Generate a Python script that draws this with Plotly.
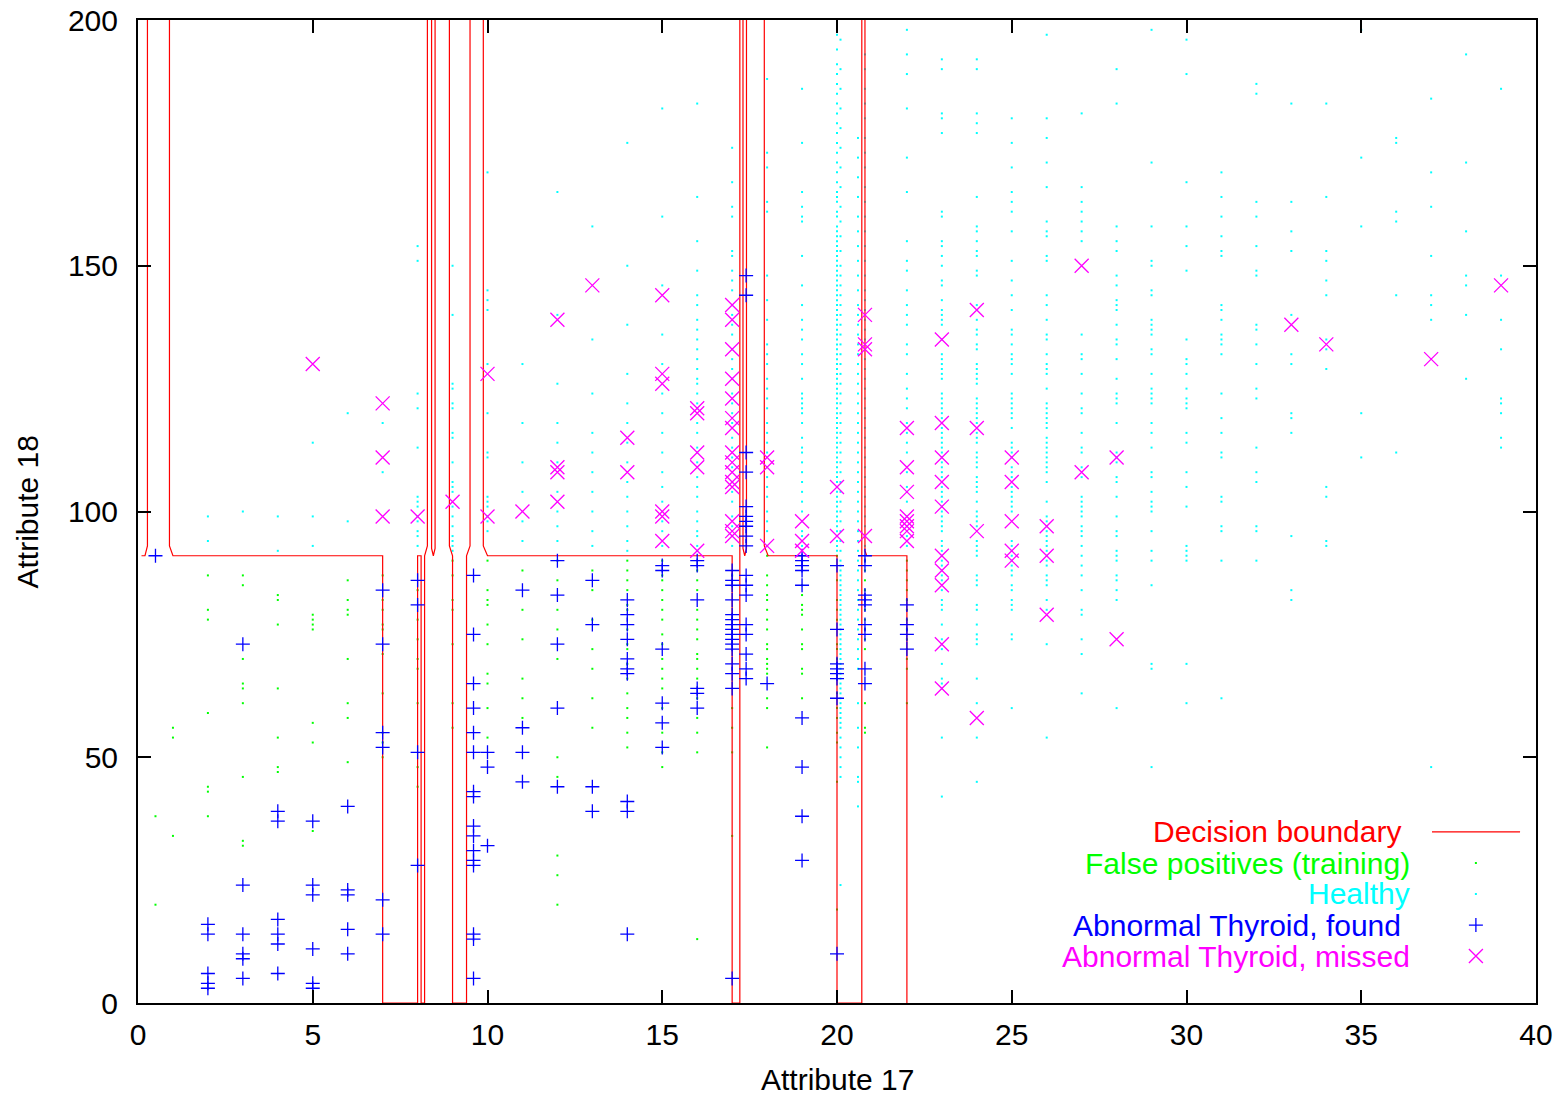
import plotly.graph_objects as go

# ---------------------------------------------------------------------------
# Decision boundary (contour pieces of the classifier output)
# ---------------------------------------------------------------------------
bnd1_x = [0.1, 0.2, 0.27, 0.27]
bnd1_y = [91, 91, 93, 200]
bnd2_x = [0.9, 0.9, 1.0, 7.0, 7.0, 8.0, 8.0, 8.1, 8.1, 8.2, 8.2, 8.28, 8.28]
bnd2_y = [200, 93, 91, 91, 0, 0, 91, 91, 0, 0, 91, 93, 200]
bnd3_x = [8.4, 8.4, 8.45, 8.5, 8.5]
bnd3_y = [200, 92.5, 91, 92.5, 200]
bnd4_x = [8.91, 8.91, 9.0, 9.0, 9.4, 9.4, 9.5, 9.5]
bnd4_y = [200, 93, 91, 0, 0, 91, 93, 200]
bnd5_x = [9.88, 9.88, 10.0, 17.0, 17.0, 17.22, 17.22]
bnd5_y = [200, 93, 91, 91, 0, 0, 200]
bnd6_x = [17.31, 17.31, 17.36, 17.41, 17.41]
bnd6_y = [200, 92.5, 91, 92.5, 200]
bnd7_x = [17.92, 17.92, 18.03, 20.0, 20.0, 20.71, 20.71]
bnd7_y = [200, 93, 91, 91, 0, 0, 200]
bnd8_x = [20.8, 20.8, 20.85, 22.0, 22.0]
bnd8_y = [200, 92, 91, 91, 0]

boundary = [(bnd1_x, bnd1_y), (bnd2_x, bnd2_y), (bnd3_x, bnd3_y), (bnd4_x, bnd4_y),
            (bnd5_x, bnd5_y), (bnd6_x, bnd6_y), (bnd7_x, bnd7_y), (bnd8_x, bnd8_y)]

# ---------------------------------------------------------------------------
# False positives (training), Attribute 18 values per Attribute 17 column
# ---------------------------------------------------------------------------
fp_0_5 = [38, 20]
fp_1 = [56, 54, 34]
fp_2 = [87, 80, 78, 59, 44, 43, 38]
fp_3 = [87, 85, 70, 65, 64, 61, 46, 33, 32]
fp_4 = [83, 82, 77, 64, 54, 48, 47]
fp_5 = [79, 78, 77, 76, 57, 53, 35]
fp_6 = [86, 82, 80, 79, 70, 61, 58, 49]
fp_7 = [87, 82, 80, 77, 76, 71, 63, 55, 53, 50]
fp_8 = [84, 78, 74, 70, 68, 61, 48, 44]
fp_9 = [90, 87, 82, 80, 73, 61, 56]
fp_10 = [90, 84, 82, 81, 77, 73, 67, 65, 60, 54]
fp_11 = [88, 80, 74, 66, 62, 58]
fp_12 = [90, 86, 80, 76, 70, 50, 46, 30, 26, 20]
fp_13 = [88, 84, 78, 72, 68, 62, 56]
fp_14 = [90, 88, 86, 84, 81, 80, 76, 73, 72, 69, 66, 63, 60, 58, 55, 52]
fp_15 = [90, 87, 86, 84, 82, 80, 78, 75, 73, 70, 68, 66, 64, 60, 55, 51, 48]
fp_16 = [88, 86, 84, 80, 78, 76, 74, 71, 70, 68, 66, 62, 58, 55, 51, 13]
fp_17 = [87, 60, 56, 51, 34]
fp_18 = [91, 87, 85, 83, 82, 80, 78, 76, 73, 72, 70, 69, 68, 67, 62, 60, 52]
fp_19 = [85, 83, 81, 80, 79, 76, 73, 72, 68, 67, 62]
fp_20 = [91, 86, 82, 80, 78, 73, 72, 70, 66, 63, 60, 58, 55, 53, 45, 19]
fp_20_8 = [90, 88, 86, 84, 82, 80, 78, 76, 74, 72, 61, 56, 55]
fp_22 = [90, 88, 86, 84, 82, 80, 78, 76, 74, 72, 70, 68, 61]

fp_columns = [(0.5, fp_0_5), (1, fp_1), (2, fp_2), (3, fp_3), (4, fp_4), (5, fp_5),
              (6, fp_6), (7, fp_7), (8, fp_8), (9, fp_9), (10, fp_10), (11, fp_11),
              (12, fp_12), (13, fp_13), (14, fp_14), (15, fp_15), (16, fp_16),
              (17, fp_17), (18, fp_18), (19, fp_19), (20, fp_20), (20.8, fp_20_8),
              (22, fp_22)]

# ---------------------------------------------------------------------------
# Healthy cases, Attribute 18 values per Attribute 17 column
# ---------------------------------------------------------------------------
healthy_2 = [99, 94]
healthy_3 = [100]
healthy_4 = [99, 92]
healthy_5 = [114, 99, 93]
healthy_6 = [120, 98]
healthy_7 = [118, 108]
healthy_8 = [154, 151, 124, 121, 113, 103, 102, 101, 99, 98, 96, 95, 93]
healthy_9 = [150, 140, 126, 125, 122, 121, 116, 115, 110, 106, 105, 104, 101, 99, 97, 95, 94, 93, 92]
healthy_10 = [169, 145, 143, 141, 130, 120, 112, 111, 103, 102, 101, 99, 98, 96]
healthy_11 = [130, 118, 110, 104, 98, 94]
healthy_12 = [165, 140, 126, 118, 114, 110, 104, 100, 97, 94]
healthy_13 = [158, 135, 124, 116, 112, 108, 104, 100, 96, 93]
healthy_14 = [175, 150, 138, 128, 122, 118, 114, 110, 106, 103, 100, 97, 94, 92]
healthy_15 = [182, 160, 146, 136, 130, 124, 120, 116, 112, 108, 105, 102, 98, 96, 93]
healthy_16 = [183, 164, 155, 149, 144, 142, 139, 137, 135, 133, 131, 129, 127, 126, 124,
              122, 121, 118, 116, 113, 112, 110, 107, 105, 103, 100, 98, 96, 95, 93, 92]
healthy_17 = [174, 167, 162, 160, 153, 152, 149, 147, 145, 142, 140, 138, 136, 133, 131,
              129, 127, 124, 122, 120, 118, 115, 113, 111, 109, 106, 104, 102, 99, 97, 95, 93]
healthy_18 = [188, 173, 170, 163, 161, 148, 143, 139, 134, 132, 130, 127, 125, 123, 121,
              118, 116, 114, 112, 109, 107, 105, 103, 100, 98, 96, 93]
healthy_19 = [186, 175, 165, 162, 160, 159, 152, 146, 142, 139, 137, 135, 132, 130, 127,
              124, 123, 122, 121, 120, 118, 115, 113, 112, 110, 108, 106, 104, 102, 100,
              98, 96, 95, 93]
healthy_20 = [197, 194, 191, 189, 187, 185, 183, 181, 179, 177, 175, 173, 171, 169, 167,
              165, 164, 163, 161, 160, 158, 157, 156, 155, 154, 153, 152, 151, 150, 149,
              148, 147, 146, 145, 144, 143, 142, 141, 140, 139, 138, 137, 136, 135, 134,
              133, 132, 131, 130, 129, 128, 127, 126, 125, 124, 123, 122, 121, 120, 119,
              118, 117, 116, 115, 114, 113, 112, 111, 110, 109, 108, 107, 106, 105, 104,
              103, 102, 101, 100, 99, 98, 97, 96, 95, 94, 93, 92]
healthy_20_1 = [196, 190, 186, 182, 178, 174, 170, 166, 162, 159, 156, 153, 150, 148, 146,
                144, 142, 140, 138, 136, 134, 132, 130, 128, 126, 124, 122, 120, 118, 116,
                114, 112, 110, 108, 106, 104, 102, 100, 98, 96, 94, 92, 90, 89, 88, 87,
                86, 85, 84, 83, 82, 81, 80, 79, 78, 77, 76, 75, 74, 73, 72, 71, 70, 69,
                68, 67, 66, 65, 64, 63, 62, 61, 60, 59, 58, 57, 56, 54, 52, 50, 48, 46, 24]
healthy_20_6 = [176, 172, 168, 164, 160, 157, 154, 151, 148, 145, 142, 140, 138, 136, 134,
                132, 130, 128, 126, 124, 122, 120, 118, 116, 114, 112, 110, 108, 106, 104,
                102, 100, 98, 96, 94, 92, 90, 88, 86, 84, 82, 80, 78, 76, 74, 72, 70, 68,
                61, 56, 52, 46, 45, 40]
healthy_20_8 = [193, 190, 186, 183, 180, 176, 173, 170, 166, 163, 160, 157, 154, 151, 148,
                145, 143, 141, 139, 137, 135, 133, 131, 129, 127, 125, 123, 121, 119, 117,
                115, 113, 111, 109, 107, 105, 103, 101, 99, 97, 95, 93]
healthy_22 = [198, 193, 189, 182, 172, 165, 155, 151, 149, 145, 142, 140, 138, 134, 132,
              128, 125, 123, 121, 118, 116, 114, 112, 108, 105, 104, 102, 99, 97, 95, 93]
healthy_23 = [192, 190, 181, 180, 177, 161, 160, 155, 154, 152, 150, 147, 146, 143, 141,
              140, 139, 138, 135, 132, 131, 130, 129, 128, 127, 124, 123, 122, 121, 120,
              119, 118, 117, 116, 115, 114, 113, 112, 111, 110, 109, 108, 107, 106, 105,
              104, 103, 102, 101, 100, 99, 98, 97, 96, 94, 93, 92, 91, 90, 89, 88, 87,
              86, 84, 82, 81, 80, 77, 74, 73, 72, 69, 66, 65, 64, 54, 42]
healthy_24 = [192, 190, 181, 179, 177, 164, 158, 157, 155, 153, 152, 149, 148, 142, 141,
              139, 137, 136, 134, 133, 130, 129, 128, 127, 126, 123, 122, 121, 120, 119,
              118, 116, 115, 114, 112, 111, 110, 109, 107, 106, 105, 104, 102, 100, 99,
              98, 97, 94, 93, 92, 91, 87, 86, 85, 81, 80, 77, 75, 74, 73, 66, 61, 54, 45]
healthy_25 = [180, 175, 170, 165, 163, 161, 157, 151, 147, 144, 141, 137, 136, 134, 132,
              131, 130, 128, 124, 123, 122, 121, 120, 119, 117, 114, 113, 112, 111, 109,
              108, 107, 105, 104, 103, 102, 101, 100, 94, 93, 92, 91, 90, 89, 88, 87, 85,
              84, 82, 81, 80, 75, 74, 60]
healthy_26 = [197, 180, 176, 171, 166, 159, 157, 156, 152, 151, 144, 142, 139, 136, 135,
              132, 130, 129, 128, 125, 122, 121, 120, 119, 118, 117, 115, 114, 113, 112,
              111, 110, 109, 108, 106, 102, 99, 98, 97, 96, 95, 94, 93, 92, 91, 90, 89,
              87, 86, 85, 82, 80, 73, 54]
healthy_27 = [181, 166, 163, 161, 159, 157, 155, 136, 132, 131, 128, 124, 121, 120, 116,
              113, 112, 109, 107, 103, 102, 101, 100, 99, 97, 96, 95, 93, 91, 89, 87, 84,
              80, 79, 74, 71, 63]
healthy_28 = [190, 183, 158, 155, 153, 148, 146, 143, 142, 141, 138, 135, 134, 131, 127,
              124, 123, 122, 118, 112, 111, 110, 107, 106, 103, 99, 96, 95, 92, 91, 90, 87,
              86, 84, 82, 60]
healthy_29 = [198, 171, 158, 151, 150, 145, 144, 139, 138, 137, 136, 133, 132, 128, 125,
              124, 123, 122, 118, 116, 113, 108, 107, 104, 102, 101, 100, 96, 92, 90, 85,
              69, 68, 48]
healthy_30 = [196, 189, 167, 158, 154, 149, 135, 131, 130, 128, 125, 123, 122, 121, 116,
              114, 108, 105, 101, 93, 92, 91, 90, 69, 61]
healthy_31 = [169, 164, 160, 156, 153, 152, 142, 141, 139, 136, 135, 134, 132, 124, 119,
              116, 112, 111, 103, 102, 97, 96, 90, 62]
healthy_32 = [187, 185, 163, 160, 154, 149, 148, 138, 137, 134, 130, 125, 123, 113, 108,
              106, 97, 96, 90]
healthy_33 = [183, 163, 157, 153, 140, 132, 130, 120, 119, 116, 95, 84, 82]
healthy_34 = [183, 164, 153, 151, 147, 144, 135, 133, 129, 105, 103, 94, 93]
healthy_35 = [198, 172, 158, 120, 111]
healthy_36 = [176, 175, 161, 159, 144, 112]
healthy_37 = [184, 169, 162, 152, 144, 142, 139, 48]
healthy_38 = [193, 171, 157, 148, 146, 140, 127]
healthy_39 = [186, 148, 139, 133, 123, 122, 120, 115, 113]

healthy_columns = [(2, healthy_2), (3, healthy_3), (4, healthy_4), (5, healthy_5),
                   (6, healthy_6), (7, healthy_7), (8, healthy_8), (9, healthy_9),
                   (10, healthy_10), (11, healthy_11), (12, healthy_12), (13, healthy_13),
                   (14, healthy_14), (15, healthy_15), (16, healthy_16), (17, healthy_17),
                   (18, healthy_18), (19, healthy_19), (20, healthy_20), (20.1, healthy_20_1),
                   (20.6, healthy_20_6), (20.8, healthy_20_8), (22, healthy_22),
                   (23, healthy_23), (24, healthy_24), (25, healthy_25), (26, healthy_26),
                   (27, healthy_27), (28, healthy_28), (29, healthy_29), (30, healthy_30),
                   (31, healthy_31), (32, healthy_32), (33, healthy_33), (34, healthy_34),
                   (35, healthy_35), (36, healthy_36), (37, healthy_37), (38, healthy_38),
                   (39, healthy_39)]

# ---------------------------------------------------------------------------
# Abnormal thyroid cases found by the classifier
# ---------------------------------------------------------------------------
found_x = [0.5,
           2, 2, 2, 2, 2,
           3, 3, 3, 3, 3, 3,
           4, 4, 4, 4, 4, 4,
           5, 5, 5, 5, 5, 5,
           6, 6, 6, 6, 6,
           7, 7, 7, 7, 7, 7,
           8, 8, 8, 8,
           9.6, 9.6, 9.6, 9.6, 9.6, 9.6, 9.6, 9.6, 9.6, 9.6, 9.6, 9.6, 9.6, 9.6, 9.6, 9.6,
           10, 10, 10,
           11, 11, 11, 11,
           12, 12, 12, 12, 12,
           13, 13, 13, 13,
           14, 14, 14, 14, 14, 14, 14, 14, 14, 14,
           15, 15, 15, 15, 15, 15,
           16, 16, 16, 16, 16, 16,
           17, 17, 17, 17, 17, 17, 17, 17, 17, 17, 17, 17, 17, 17, 17, 17,
           17.4, 17.4, 17.4, 17.4, 17.4, 17.4, 17.4, 17.4, 17.4, 17.4, 17.4, 17.4, 17.4,
           17.4, 17.4, 17.4, 17.4, 17.4,
           18,
           19, 19, 19, 19, 19, 19, 19, 19, 19,
           20, 20, 20, 20, 20, 20, 20, 20,
           20.8, 20.8, 20.8, 20.8, 20.8, 20.8, 20.8, 20.8, 20.8,
           22, 22, 22, 22]
found_y = [91,
           16, 14, 6, 4, 3,
           73, 24, 14, 10, 9, 5,
           39, 37, 17, 14, 12, 6,
           37, 24, 22, 11, 4, 3,
           40, 23, 22, 15, 10,
           84, 73, 55, 52, 21, 14,
           86, 81, 51, 28,
           87, 75, 65, 60, 55, 51, 43, 42, 36, 34, 31, 29, 28, 14, 13, 5,
           51, 48, 32,
           84, 56, 51, 45,
           90, 83, 73, 60, 44,
           86, 77, 44, 39,
           82, 79, 77, 74, 70, 68, 67, 41, 39, 14,
           89, 88, 72, 61, 57, 52,
           90, 89, 82, 64, 63, 60,
           88, 86, 85, 82, 79, 78, 77, 76, 75, 74, 73, 72, 69, 67, 64, 5,
           148, 144, 112, 108, 101, 99, 98, 97, 95, 93, 87, 85, 83, 77, 75, 71, 68,
           66,
           65,
           91, 90, 89, 88, 85, 58, 48, 38, 29,
           89, 76, 69, 68, 67, 66, 62, 10,
           91, 89, 83, 82, 81, 77, 75, 68, 65,
           81, 77, 75, 72]

# ---------------------------------------------------------------------------
# Abnormal thyroid cases missed by the classifier
# ---------------------------------------------------------------------------
missed_x = [5, 7, 7, 7, 8, 9, 10, 10, 11,
            12, 12, 12, 12, 13, 14, 14,
            15, 15, 15, 15, 15, 15,
            16, 16, 16, 16, 16,
            17, 17, 17, 17, 17, 17, 17, 17, 17, 17, 17, 17, 17, 17, 17,
            18, 18, 18,
            19, 19, 19,
            20, 20,
            20.8, 20.8, 20.8, 20.8,
            22, 22, 22, 22, 22, 22, 22, 22,
            23, 23, 23, 23, 23, 23, 23, 23, 23, 23,
            24, 24, 24, 24,
            25, 25, 25, 25, 25,
            26, 26, 26,
            27, 27,
            28, 28,
            33, 34, 37, 39]
missed_y = [130, 122, 111, 99, 99, 102, 128, 99, 100,
            139, 109, 108, 102, 146, 115, 108,
            144, 128, 126, 100, 99, 94,
            121, 120, 112, 109, 92,
            142, 139, 133, 127, 123, 119, 117, 112, 110, 108, 106, 105, 98, 96, 95,
            111, 109, 93,
            98, 94, 92,
            105, 95,
            140, 134, 133, 95,
            117, 109, 104, 99, 98, 97, 96, 94,
            135, 118, 111, 106, 101, 91, 88, 85, 73, 64,
            141, 117, 96, 58,
            111, 106, 98, 92, 90,
            97, 91, 79,
            150, 108,
            111, 74,
            138, 134, 131, 146]

# Legend entries
legend_labels = ["Decision boundary", "False positives (training)", "Healthy",
                 "Abnormal Thyroid, found", "Abnormal Thyroid, missed"]

RED = "#ff0000"
GREEN = "#00ff00"
CYAN = "#00ffff"
BLUE = "#0000ff"
MAGENTA = "#ff00ff"
FONT = "Liberation Sans, Arial, Helvetica, sans-serif"
FSIZE = 30


def expand(columns):
    xs, ys = [], []
    for cx, vals in columns:
        xs.extend([cx] * len(vals))
        ys.extend(vals)
    return xs, ys


fig = go.Figure()

# healthy and false-positive dots
hx, hy = expand(healthy_columns)
fig.add_trace(go.Scatter(x=hx, y=hy, mode="markers", hoverinfo="skip",
                         marker=dict(symbol="square", size=2, color=CYAN, line=dict(width=0))))
gx, gy = expand(fp_columns)
fig.add_trace(go.Scatter(x=gx, y=gy, mode="markers", hoverinfo="skip",
                         marker=dict(symbol="square", size=2, color=GREEN, line=dict(width=0))))

# decision boundary
for bx, by in boundary:
    fig.add_trace(go.Scatter(x=bx, y=by, mode="lines", hoverinfo="skip",
                             line=dict(color=RED, width=1.2)))

# abnormal cases
fig.add_trace(go.Scatter(x=found_x, y=found_y, mode="markers", hoverinfo="skip",
                         marker=dict(symbol="cross-thin", size=10,
                                     line=dict(color=BLUE, width=1.3))))
fig.add_trace(go.Scatter(x=missed_x, y=missed_y, mode="markers", hoverinfo="skip",
                         marker=dict(symbol="x-thin", size=14,
                                     line=dict(color=MAGENTA, width=1.3))))

# legend key samples drawn on an overlay axis pair spanning the plot area
key_rows = [0.174, 0.1424, 0.1109, 0.0793, 0.0478]
key_x = 0.957
fig.add_trace(go.Scatter(x=[0.9256, 0.9886], y=[key_rows[0]] * 2, mode="lines",
                         xaxis="x2", yaxis="y2", hoverinfo="skip",
                         line=dict(color=RED, width=1.2)))
fig.add_trace(go.Scatter(x=[key_x], y=[key_rows[1]], mode="markers", xaxis="x2", yaxis="y2",
                         hoverinfo="skip", marker=dict(symbol="square", size=2, color=GREEN)))
fig.add_trace(go.Scatter(x=[key_x], y=[key_rows[2]], mode="markers", xaxis="x2", yaxis="y2",
                         hoverinfo="skip", marker=dict(symbol="square", size=2, color=CYAN)))
fig.add_trace(go.Scatter(x=[key_x], y=[key_rows[3]], mode="markers", xaxis="x2", yaxis="y2",
                         hoverinfo="skip",
                         marker=dict(symbol="cross-thin", size=10, line=dict(color=BLUE, width=1.3))))
fig.add_trace(go.Scatter(x=[key_x], y=[key_rows[4]], mode="markers", xaxis="x2", yaxis="y2",
                         hoverinfo="skip",
                         marker=dict(symbol="x-thin", size=14, line=dict(color=MAGENTA, width=1.3))))

label_colors = [RED, GREEN, CYAN, BLUE, MAGENTA]
label_right = [0.905, 0.911, 0.911, 0.905, 0.911]
annotations = []
for text, col, yr, xr in zip(legend_labels, label_colors, key_rows, label_right):
    annotations.append(dict(text=text, x=xr, y=yr, xref="paper", yref="paper",
                            xanchor="right", yanchor="middle", showarrow=False,
                            font=dict(family=FONT, size=FSIZE, color=col)))

# axis titles
annotations.append(dict(text="Attribute 17", x=0.5, y=-0.078, xref="paper", yref="paper",
                        xanchor="center", yanchor="middle", showarrow=False,
                        font=dict(family=FONT, size=FSIZE, color="black")))
annotations.append(dict(text="Attribute 18", x=-0.0787, y=0.5, xref="paper", yref="paper",
                        xanchor="center", yanchor="middle", showarrow=False, textangle=-90,
                        font=dict(family=FONT, size=FSIZE, color="black")))

axis_style = dict(showgrid=False, zeroline=False, showline=True, linecolor="black",
                  linewidth=2, ticks="inside", ticklen=13, tickwidth=2, tickcolor="black",
                  mirror="allticks", automargin=False,
                  tickfont=dict(family=FONT, size=FSIZE, color="black"))

fig.update_layout(
    width=1560, height=1096,
    margin=dict(l=138, r=24, t=20, b=93, autoexpand=False),
    paper_bgcolor="white", plot_bgcolor="white",
    showlegend=False,
    font=dict(family=FONT, size=FSIZE, color="black"),
    annotations=annotations,
    xaxis=dict(range=[0, 40], tickvals=[0, 5, 10, 15, 20, 25, 30, 35, 40],
               ticklabelstandoff=4, **axis_style),
    yaxis=dict(range=[0, 200], tickvals=[0, 50, 100, 150, 200],
               ticklabelstandoff=12, **axis_style),
    xaxis2=dict(range=[0, 1], overlaying="x", visible=False),
    yaxis2=dict(range=[0, 1], overlaying="y", visible=False),
)

fig.write_html("out.html")
